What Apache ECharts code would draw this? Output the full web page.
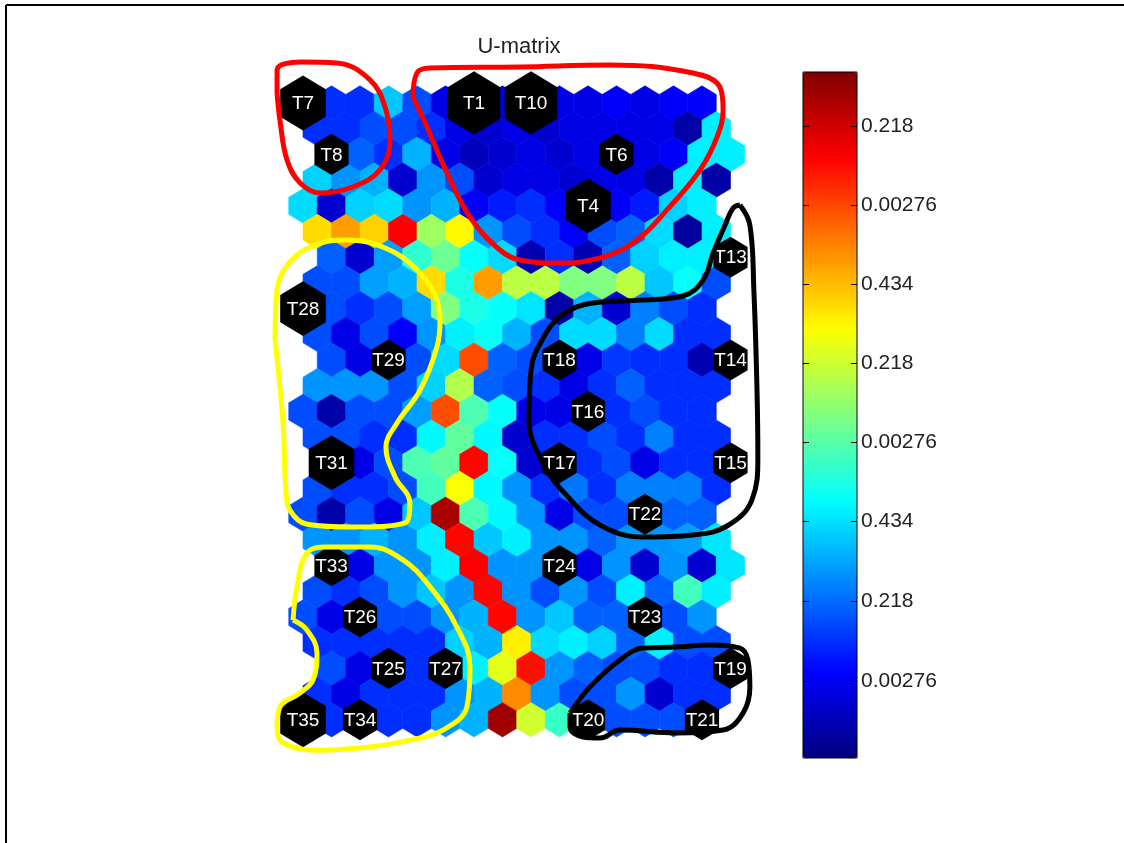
<!DOCTYPE html>
<html>
<head>
<meta charset="utf-8">
<title>U-matrix</title>
<script src="https://cdn.jsdelivr.net/npm/echarts@6/dist/echarts.min.js"></script>
<style>
html, body { margin: 0; padding: 0; background: #fff; }
#chart { width: 1124px; height: 843px; }
</style>
</head>
<body>
<div id="chart"></div>
<script>
// U-matrix distances, 25 rows x 15 hexes, row 0 at the top
var umat = [
    [0.05, 0.17, 0.17, 0.32, 0.2, 0.1, 0.05, 0.1, 0.05, 0.1, 0.1, 0.12, 0.1, 0.12, 0.12],
    [0.17, 0.17, 0.2, 0.2, 0.17, 0.1, 0.08, 0.1, 0.08, 0.1, 0.1, 0.1, 0.1, 0.04, 0.36],
    [0.05, 0.22, 0.17, 0.3, 0.1, 0.06, 0.08, 0.1, 0.08, 0.1, 0.05, 0.1, 0.12, 0.36, 0.36],
    [0.33, 0.27, 0.3, 0.08, 0.27, 0.2, 0.08, 0.1, 0.1, 0.08, 0.1, 0.1, 0.04, 0.36, 0.04],
    [0.34, 0.08, 0.33, 0.34, 0.27, 0.3, 0.12, 0.15, 0.17, 0.12, 0.05, 0.12, 0.15, 0.33, 0.36],
    [0.66, 0.72, 0.67, 0.88, 0.53, 0.63, 0.27, 0.2, 0.17, 0.12, 0.2, 0.22, 0.34, 0.03, 0.36],
    [0.22, 0.08, 0.28, 0.42, 0.48, 0.38, 0.34, 0.05, 0.17, 0.05, 0.22, 0.33, 0.36, 0.36, 0.05],
    [0.2, 0.2, 0.28, 0.3, 0.66, 0.4, 0.72, 0.56, 0.56, 0.5, 0.5, 0.56, 0.32, 0.38, 0.2],
    [0.05, 0.2, 0.17, 0.2, 0.28, 0.5, 0.4, 0.38, 0.35, 0.04, 0.3, 0.08, 0.25, 0.2, 0.17],
    [0.2, 0.1, 0.2, 0.12, 0.27, 0.36, 0.38, 0.3, 0.2, 0.34, 0.34, 0.25, 0.34, 0.17, 0.17],
    [0.2, 0.1, 0.05, 0.2, 0.34, 0.8, 0.22, 0.2, 0.05, 0.1, 0.18, 0.17, 0.17, 0.05, 0.05],
    [0.27, 0.27, 0.27, 0.2, 0.33, 0.55, 0.22, 0.2, 0.17, 0.1, 0.17, 0.22, 0.17, 0.17, 0.17],
    [0.2, 0.04, 0.2, 0.2, 0.28, 0.8, 0.45, 0.38, 0.1, 0.1, 0.05, 0.17, 0.2, 0.17, 0.17],
    [0.2, 0.2, 0.17, 0.17, 0.37, 0.47, 0.37, 0.08, 0.17, 0.17, 0.2, 0.17, 0.25, 0.17, 0.17],
    [0.05, 0.1, 0.2, 0.45, 0.47, 0.87, 0.38, 0.08, 0.05, 0.17, 0.2, 0.1, 0.17, 0.17, 0.05],
    [0.2, 0.17, 0.17, 0.2, 0.44, 0.62, 0.37, 0.27, 0.17, 0.24, 0.17, 0.25, 0.25, 0.25, 0.17],
    [0.2, 0.04, 0.2, 0.1, 0.32, 0.96, 0.45, 0.37, 0.27, 0.1, 0.2, 0.2, 0.05, 0.22, 0.22],
    [0.27, 0.27, 0.3, 0.27, 0.36, 0.87, 0.32, 0.36, 0.27, 0.27, 0.22, 0.27, 0.27, 0.28, 0.35],
    [0.05, 0.1, 0.27, 0.27, 0.36, 0.88, 0.27, 0.27, 0.05, 0.1, 0.27, 0.08, 0.27, 0.08, 0.35],
    [0.2, 0.17, 0.2, 0.27, 0.32, 0.27, 0.87, 0.27, 0.2, 0.27, 0.2, 0.36, 0.22, 0.44, 0.36],
    [0.2, 0.1, 0.05, 0.2, 0.2, 0.27, 0.3, 0.87, 0.27, 0.32, 0.22, 0.22, 0.05, 0.2, 0.27],
    [0.17, 0.17, 0.17, 0.17, 0.17, 0.33, 0.3, 0.64, 0.34, 0.36, 0.33, 0.22, 0.36, 0.2, 0.2],
    [0.2, 0.1, 0.05, 0.17, 0.05, 0.36, 0.6, 0.86, 0.27, 0.22, 0.2, 0.2, 0.17, 0.17, 0.05],
    [0.17, 0.1, 0.17, 0.17, 0.17, 0.27, 0.3, 0.74, 0.27, 0.2, 0.2, 0.27, 0.08, 0.17, 0.17],
    [0.05, 0.17, 0.05, 0.17, 0.17, 0.27, 0.3, 0.97, 0.58, 0.43, 0.05, 0.2, 0.2, 0.2, 0.05]
];

// hexaU lattice: rows are shifted by 0, 0.5, 1, 0.5 hex widths
var rowShift = [0, 0.5, 1, 0.5];

// labelled map units (hit markers)
var labelNames = ['T7', 'T1', 'T10', 'T8', 'T6', 'T4', 'T13', 'T28', 'T29', 'T18', 'T14', 'T16', 'T31', 'T17',
    'T15', 'T22', 'T33', 'T24', 'T26', 'T23', 'T25', 'T27', 'T19', 'T35', 'T34', 'T20', 'T21'];
var labelRows = [0, 0, 0, 2, 2, 4, 6, 8, 10, 10, 10, 12, 14, 14, 14, 16, 18, 18, 20, 20, 22, 22, 22, 24, 24, 24, 24];
var labelCols = [0, 6, 8, 0, 10, 10, 14, 0, 2, 8, 14, 10, 0, 8, 14, 12, 0, 8, 2, 12, 2, 4, 14, 0, 2, 10, 14];
var labelHits = [2, 3, 3, 1, 1, 2, 1, 2, 1, 1, 1, 1, 2, 1, 1, 1, 1, 1, 1, 1, 1, 1, 1, 2, 1, 1, 1];

// colorbar ticks (normalised position) and their texts
var barTicks = [0.112, 0.229, 0.3455, 0.461, 0.576, 0.691, 0.806, 0.921];
var barTickLabels = ['0.00276', '0.218', '0.434', '0.00276', '0.218', '0.434', '0.00276', '0.218'];

// hand drawn outlines, in lattice units [col, row]
var redLoops = [
    [[-0.91, -0.39], [-0.91, -1.28], [-0.1, -1.6], [1.19, -1.56], [2.35, -0.9], [2.88, 0.16], [3.05, 1.56],
        [2.7, 2.6], [1.75, 3.27], [0.6, 3.5], [-0.1, 3.11], [-0.56, 2.22], [-0.81, 0.66], [-0.91, -0.39]],
    [[3.86, -0.23], [4.0, -1.17], [4.46, -1.36], [7.61, -1.4], [10.77, -1.48], [13.68, -1.17], [14.63, -0.62],
        [14.74, 0.27], [14.53, 1.32], [13.93, 2.61], [12.77, 4.16], [11.72, 5.33], [10.53, 5.99], [9.02, 6.23],
        [7.61, 6.11], [6.91, 5.72], [5.86, 4.44], [5.05, 2.72], [4.35, 0.93], [3.86, -0.23]]
];
var yellowLoops = [
    [[-0.98, 9.22], [-0.91, 7.28], [-0.46, 6.19], [0.42, 5.53], [1.54, 5.33], [2.88, 5.64], [3.93, 6.42],
        [4.63, 7.47], [4.81, 8.44], [4.7, 9.49], [4.11, 11.17], [3.3, 12.45], [2.91, 13.39], [3.23, 14.55],
        [3.75, 15.56], [3.58, 16.34], [1.75, 16.5], [0.14, 16.39], [-0.46, 15.84], [-0.6, 15.06],
        [-0.7, 12.45], [-0.98, 9.22]],
    [[-0.35, 20.12], [-0.21, 18.83], [0.14, 17.51], [0.84, 17.28], [2.35, 17.28], [3.51, 17.78], [4.46, 18.83],
        [5.4, 20.39], [5.86, 21.95], [5.75, 23.5], [4.91, 24.4], [3.75, 24.79], [2.35, 25.06], [0.6, 25.18],
        [-0.7, 24.9], [-0.91, 24.28], [-0.81, 23.5], [-0.11, 22.96], [0.35, 22.45], [0.49, 21.4],
        [0.14, 20.51], [-0.35, 20.12]]
];
var blackLoops = [
    [[15.33, 3.97], [15.68, 4.75], [15.82, 7.28], [15.93, 11.17], [15.96, 13.77], [15.75, 15.45], [14.88, 16.46],
        [13.68, 16.81], [11.93, 16.89], [10.42, 16.42], [9.3, 15.33], [8.42, 14.01], [7.93, 12.33], [8.0, 10.39],
        [8.39, 9.22], [9.09, 8.25], [10.18, 7.78], [11.82, 7.67], [13.33, 7.51], [14.04, 6.89], [14.39, 5.84],
        [14.81, 4.75], [15.09, 4.09], [15.33, 3.97]],
    [[9.37, 23.74], [10.07, 22.72], [11.12, 21.67], [11.93, 21.21], [13.12, 21.17], [14.28, 21.09], [15.33, 21.21],
        [15.61, 21.67], [15.68, 22.72], [15.44, 23.74], [14.74, 24.4], [13.12, 24.51], [11.12, 24.4],
        [10.42, 24.71], [9.82, 24.67], [9.37, 24.28], [9.37, 23.74]]
];

var jet = ['#000080', '#0000ff', '#0080ff', '#00ffff', '#80ff80', '#ffff00', '#ff8000', '#ff0000', '#800000'];
var markerScale = { 1: 1.2, 2: 1.6, 3: 1.85 };
var fontFamily = '"Liberation Sans", Arial, sans-serif';

var hexData = [];
umat.forEach(function (row, r) {
    row.forEach(function (v, k) {
        hexData.push([k + rowShift[r % 4], r, v]);
    });
});

var markerData = labelNames.map(function (name, i) {
    return [labelCols[i] + rowShift[labelRows[i] % 4], labelRows[i], labelHits[i], name];
});

// pointy topped hexagon around a pixel centre
function hexPoints(cx, cy, w, h) {
    return [[cx, cy - h], [cx + w, cy - h / 2], [cx + w, cy + h / 2],
        [cx, cy + h], [cx - w, cy + h / 2], [cx - w, cy - h / 2]];
}

function loopSeries(loops, color) {
    return loops.map(function (pts) {
        return {
            type: 'line',
            xAxisIndex: 0,
            yAxisIndex: 0,
            data: pts,
            smooth: 0.4,
            symbol: 'none',
            clip: false,
            silent: true,
            lineStyle: { color: color, width: 5 },
            z: 5
        };
    });
}

var chart = echarts.init(document.getElementById('chart'));

var option = {
    backgroundColor: '#fff',
    animation: false,
    title: {
        text: 'U-matrix',
        left: 514,
        top: 31,
        textAlign: 'center',
        textStyle: { fontFamily: fontFamily, fontSize: 22, fontWeight: 'normal', color: '#222' }
    },
    grid: [{
        left: 246,
        top: 51.6,
        width: 541.5,
        height: 719.6
    }, {
        left: 803,
        top: 72,
        width: 54,
        height: 686,
        show: true,
        backgroundColor: 'transparent',
        borderColor: '#000',
        borderWidth: 1,
        zlevel: 1
    }],
    xAxis: [
        { type: 'value', gridIndex: 0, min: -2, max: 17, show: false },
        { type: 'value', gridIndex: 1, min: 0, max: 1, show: false }
    ],
    yAxis: [
        { type: 'value', gridIndex: 0, min: -2, max: 26, inverse: true, show: false },
        {
            type: 'value', gridIndex: 1, min: 0, max: 1, position: 'right', zlevel: 1,
            axisLine: { show: false },
            splitLine: { show: false },
            axisTick: { show: false },
            axisLabel: {
                show: true, inside: false, margin: 4, customValues: barTicks,
                fontFamily: fontFamily, fontSize: 21, color: '#222',
                formatter: function (v) {
                    var best = 0;
                    barTicks.forEach(function (t, i) {
                        if (Math.abs(t - v) < Math.abs(barTicks[best] - v)) best = i;
                    });
                    return barTickLabels[best];
                }
            }
        }
    ],
    visualMap: {
        type: 'continuous',
        min: 0,
        max: 1,
        dimension: 2,
        seriesIndex: 0,
        orient: 'vertical',
        left: 803,
        top: 72,
        itemWidth: 54,
        itemHeight: 686,
        padding: 0,
        calculable: false,
        hoverLink: false,
        inRange: { color: jet }
    },
    graphic: [
        { type: 'line', shape: { x1: 6, y1: 5, x2: 1124, y2: 5 }, style: { stroke: '#000', lineWidth: 2 } },
        { type: 'line', shape: { x1: 6, y1: 5, x2: 6, y2: 843 }, style: { stroke: '#000', lineWidth: 2 } }
    ],
    series: [{
        type: 'custom',
        name: 'umat',
        xAxisIndex: 0,
        yAxisIndex: 0,
        data: hexData,
        encode: { x: 0, y: 1 },
        silent: true,
        renderItem: function (params, api) {
            var c = api.coord([api.value(0), api.value(1)]);
            var s = api.size([1, 1]);
            var color = api.visual('color');
            return {
                type: 'polygon',
                shape: { points: hexPoints(c[0], c[1], s[0] / 2, s[1] / 1.5) },
                style: { fill: color, stroke: color, lineWidth: 0.6 }
            };
        }
    }, {
        type: 'custom',
        name: 'hits',
        xAxisIndex: 0,
        yAxisIndex: 0,
        data: markerData,
        encode: { x: 0, y: 1 },
        silent: true,
        z: 3,
        renderItem: function (params, api) {
            var c = api.coord([api.value(0), api.value(1)]);
            var s = api.size([1, 1]);
            var k = markerScale[api.value(2)];
            return {
                type: 'group',
                children: [{
                    type: 'polygon',
                    shape: { points: hexPoints(c[0], c[1], s[0] / 2 * k, s[1] / 1.5 * k) },
                    style: { fill: '#000' }
                }, {
                    type: 'text',
                    x: c[0],
                    y: c[1] + 1,
                    style: {
                        text: labelNames[params.dataIndex],
                        fill: '#fff',
                        font: '19px ' + fontFamily,
                        align: 'center',
                        verticalAlign: 'middle'
                    }
                }]
            };
        }
    }, {
        // colorbar tick marks, inside both edges of the bar
        type: 'custom',
        name: 'barTicks',
        xAxisIndex: 1,
        yAxisIndex: 1,
        data: barTicks.map(function (v) { return [0, v]; }),
        encode: { x: 0, y: 1 },
        silent: true,
        zlevel: 1,
        z: 10,
        renderItem: function (params, api) {
            var a = api.coord([0, api.value(1)]);
            var b = api.coord([1, api.value(1)]);
            var y = Math.round(a[1]) + 0.5;
            var st = { stroke: '#000', lineWidth: 1 };
            return {
                type: 'group',
                children: [
                    { type: 'line', shape: { x1: a[0], y1: y, x2: a[0] + 6, y2: y }, style: st },
                    { type: 'line', shape: { x1: b[0] - 6, y1: y, x2: b[0], y2: y }, style: st }
                ]
            };
        }
    }]
        .concat(loopSeries(redLoops, '#ff0000'))
        .concat(loopSeries(yellowLoops, '#ffff00'))
        .concat(loopSeries(blackLoops, '#000000'))
};

chart.setOption(option);
</script>
</body>
</html>
